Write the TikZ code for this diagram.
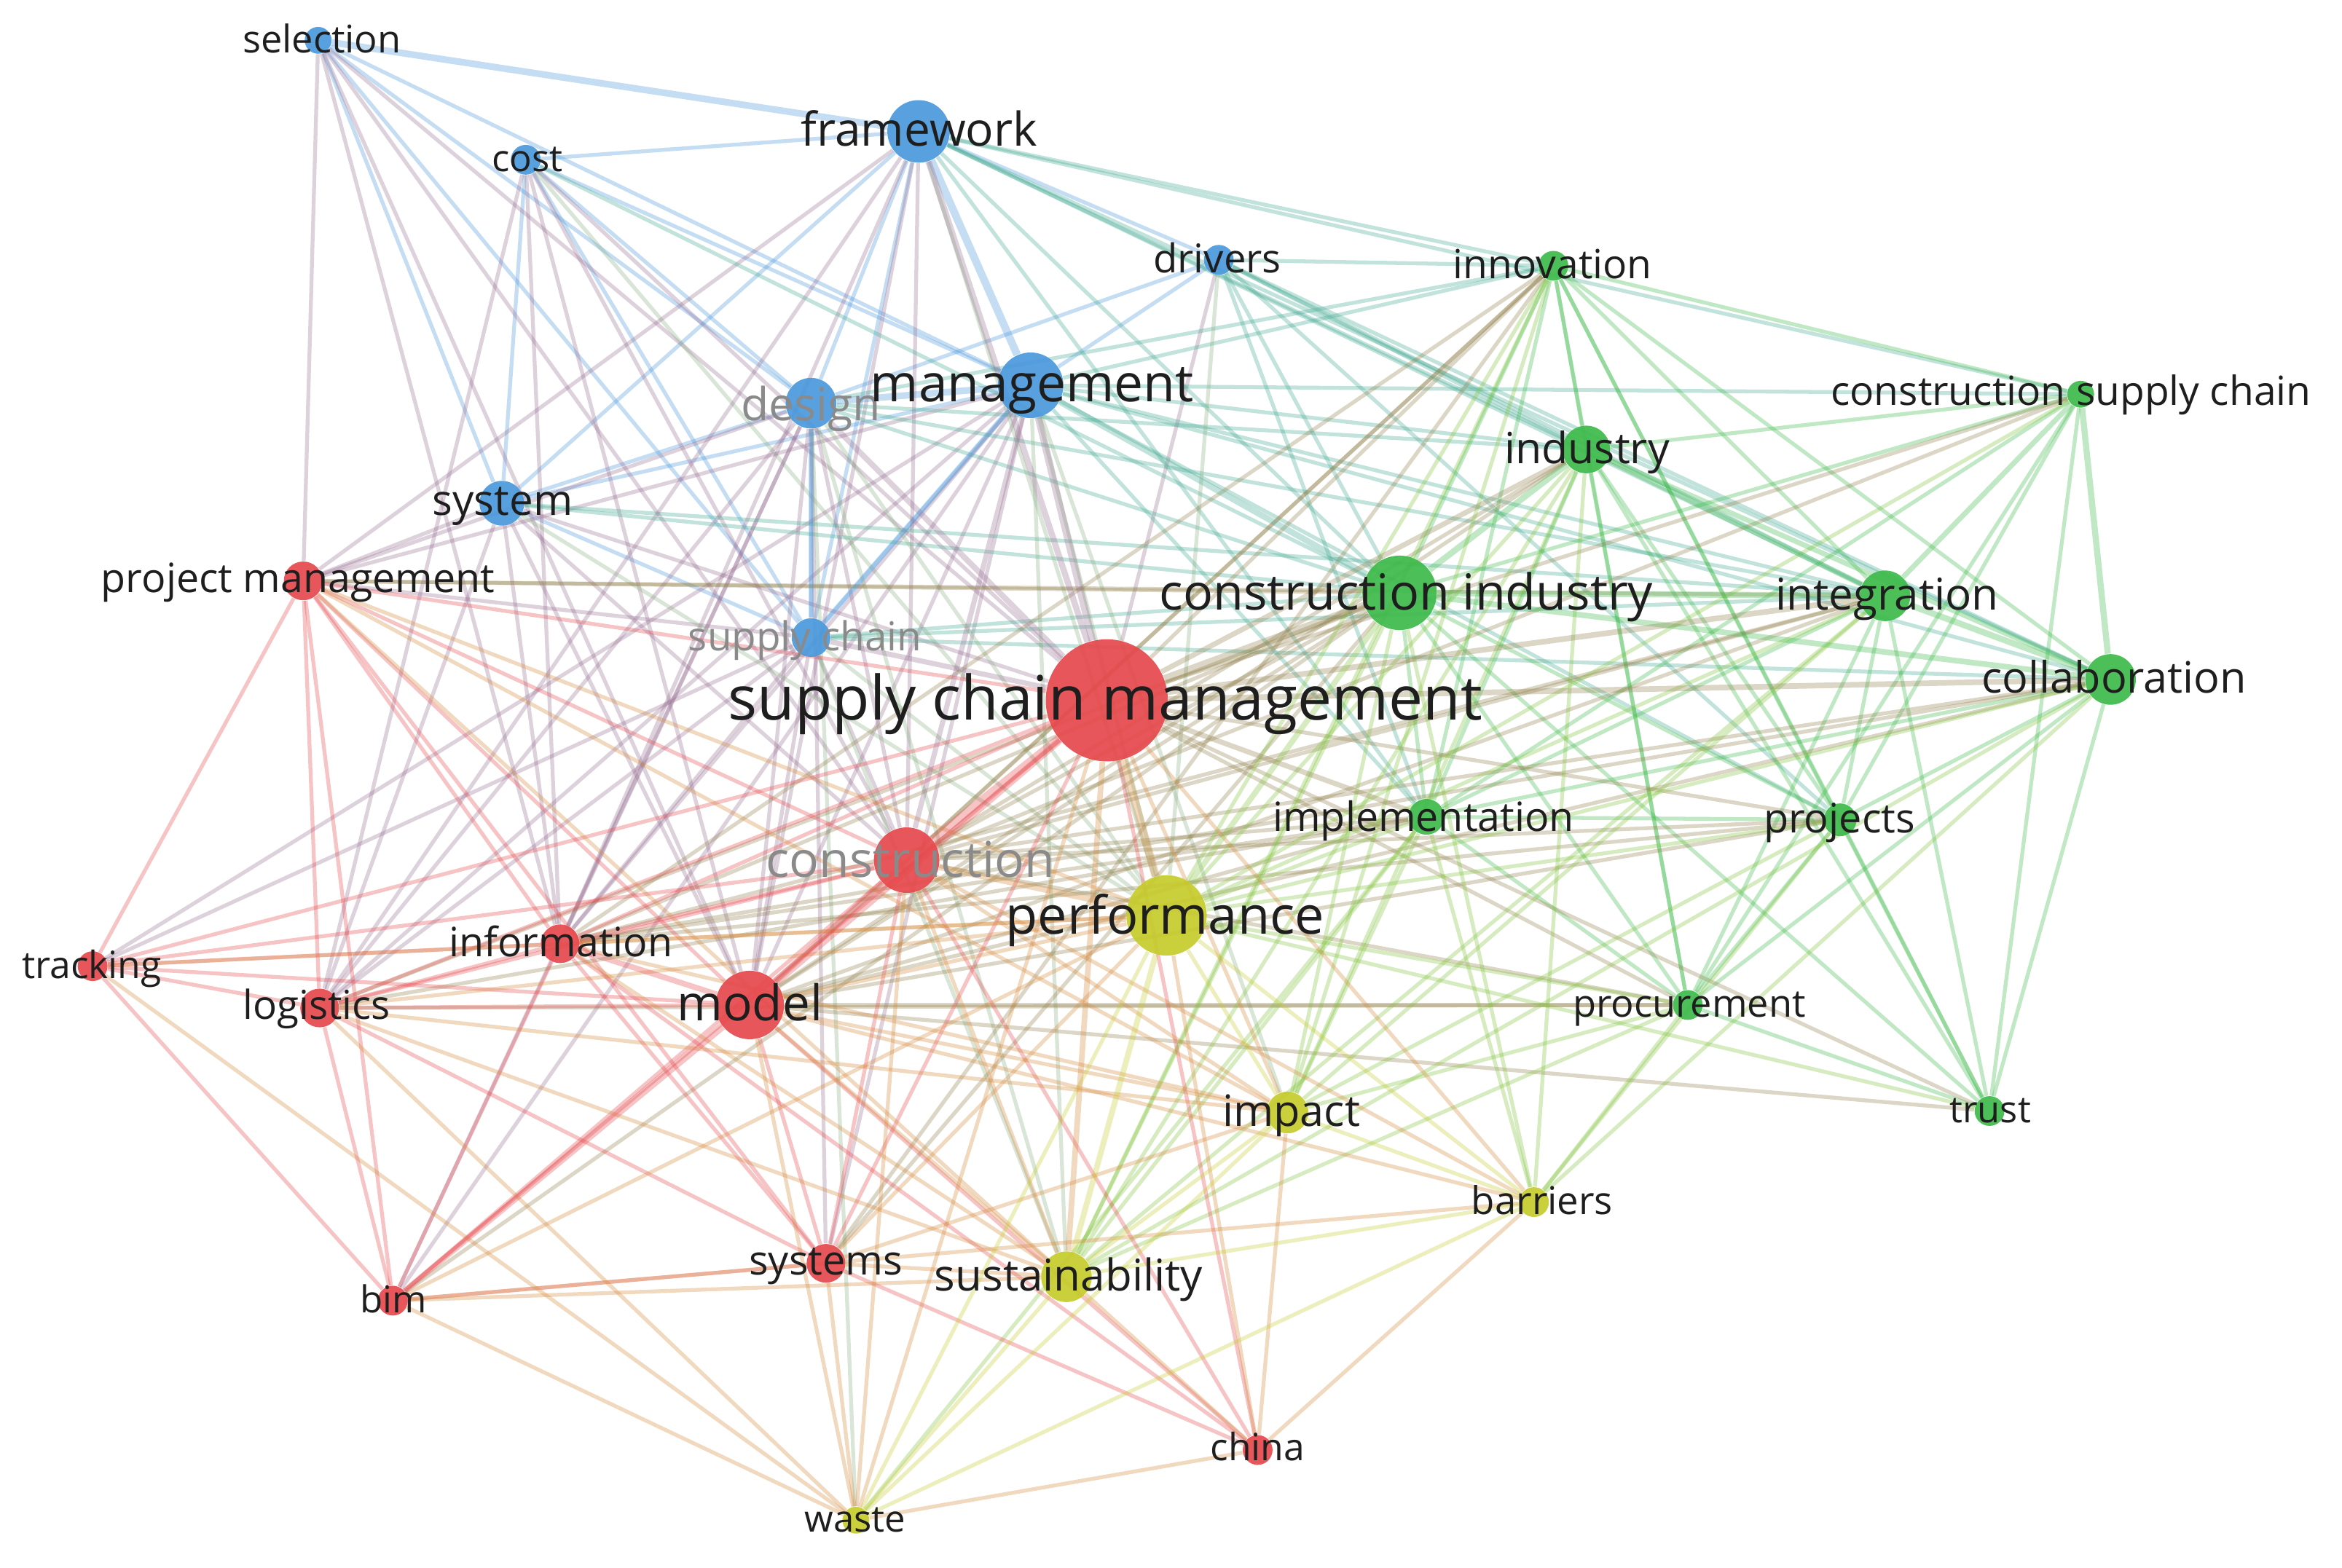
\documentclass[tikz,border=0pt]{standalone}
\usepackage{fontspec}
\setmainfont{Open Sans}
\pgfdeclarelayer{bg}
\pgfdeclarelayer{edges}
\pgfdeclarelayer{labels}
\pgfsetlayers{bg,edges,main,labels}
\definecolor{R}{HTML}{E6484C}
\definecolor{B}{HTML}{4A98DC}
\definecolor{G}{HTML}{3DBA4A}
\definecolor{Y}{HTML}{C6CB2C}
\definecolor{txt}{HTML}{1E1E1E}
\definecolor{gtxt}{HTML}{8A8A8A}
\colorlet{cscm}{R}\colorlet{cpm}{R}\colorlet{ccon}{R}\colorlet{cinf}{R}\colorlet{cmod}{R}
\colorlet{ctrk}{R}\colorlet{clog}{R}\colorlet{csys2}{R}\colorlet{cbim}{R}\colorlet{cchn}{R}
\colorlet{csel}{B}\colorlet{ccost}{B}\colorlet{cfw}{B}\colorlet{cdrv}{B}\colorlet{cdes}{B}
\colorlet{cmgt}{B}\colorlet{csys}{B}\colorlet{csc}{B}
\colorlet{cinn}{G}\colorlet{ccsc}{G}\colorlet{cind}{G}\colorlet{cci}{G}\colorlet{cint}{G}
\colorlet{ccol}{G}\colorlet{cimp}{G}\colorlet{cprj}{G}\colorlet{cproc}{G}\colorlet{ctru}{G}
\colorlet{cperf}{Y}\colorlet{cimpa}{Y}\colorlet{cbar}{Y}\colorlet{csus}{Y}\colorlet{cwst}{Y}
\begin{document}
\begin{tikzpicture}[x=0.020504cm,y=-0.020504cm,
  kw/.style={circle,inner sep=0pt,draw=none,fill opacity=0.92},
  rad/.style={minimum size=#1*1.1636pt},
  lab/.style={text=txt,inner sep=0pt,anchor=base},
  glab/.style={lab,text=gtxt},
  fs/.style={font=\fontsize{#1}{#1}\selectfont,yshift=-#1*0.32pt},
  edge/.style={line width=1.5pt,draw opacity=0.32},
]
\begin{pgfonlayer}{bg}
\fill[white] (0,0) rectangle (1568,1050);
\end{pgfonlayer}
\useasboundingbox (0,0) rectangle (1568,1050);

% ---------- nodes (circles)
\node[kw,fill=B,rad=9]  (sel)  at (213,27) {};
\node[kw,fill=B,rad=10] (cost) at (352,107) {};
\node[kw,fill=B,rad=21] (fw)   at (615,88) {};
\node[kw,fill=B,rad=10] (drv)  at (816,174) {};
\node[kw,fill=G,rad=10] (inn)  at (1040,178) {};
\node[kw,fill=G,rad=9]  (csc)  at (1393,264) {};
\node[kw,fill=B,rad=22] (mgt)  at (690,258) {};
\node[kw,fill=B,rad=17] (des)  at (543,270) {};
\node[kw,fill=G,rad=16] (ind)  at (1062,301) {};
\node[kw,fill=B,rad=15] (sys)  at (336,337) {};
\node[kw,fill=R,rad=13] (pm)   at (203,389) {};
\node[kw,fill=G,rad=25] (ci)   at (937,397) {};
\node[kw,fill=G,rad=17] (int)  at (1262,399) {};
\node[kw,fill=B,rad=13] (sc)   at (543,427) {};
\node[kw,fill=R,rad=41] (scm)  at (741,469) {};
\node[kw,fill=G,rad=17] (col)  at (1413,455) {};
\node[kw,fill=G,rad=12] (imp)  at (955,547) {};
\node[kw,fill=G,rad=11] (prj)  at (1232,549) {};
\node[kw,fill=R,rad=22] (con)  at (607,576) {};
\node[kw,fill=Y,rad=27] (perf) at (781,613) {};
\node[kw,fill=R,rad=10] (trk)  at (62,647) {};
\node[kw,fill=R,rad=13] (inf)  at (375,632) {};
\node[kw,fill=R,rad=13] (log)  at (214,675) {};
\node[kw,fill=R,rad=23] (mod)  at (502,673) {};
\node[kw,fill=G,rad=10] (proc) at (1130,673) {};
\node[kw,fill=Y,rad=14] (impa) at (862,745) {};
\node[kw,fill=G,rad=10] (tru)  at (1332,744) {};
\node[kw,fill=Y,rad=10] (bar)  at (1027,805) {};
\node[kw,fill=R,rad=13] (sys2) at (553,846) {};
\node[kw,fill=Y,rad=17] (sus)  at (714,855) {};
\node[kw,fill=R,rad=10] (bim)  at (263,871) {};
\node[kw,fill=R,rad=10] (chn)  at (842,971) {};
\node[kw,fill=Y,rad=9]  (wst)  at (573,1018) {};

% ---------- edges
\begin{pgfonlayer}{edges}
\foreach \a/\b in {
 sel/mgt, sel/des, sel/sys, sel/sc, cost/fw, cost/mgt, cost/des, cost/sys, cost/sc,
 fw/des, fw/sys, fw/drv, fw/sc, drv/mgt, drv/des, mgt/sys, mgt/sc, des/sys, des/sc, sys/sc,
 sel/pm, sel/scm, sel/con, sel/mod, sel/inf, cost/scm, cost/log, cost/mod, cost/inf, cost/con, cost/perf,
 fw/con, fw/mod, fw/inf, fw/log, fw/pm,
 drv/scm, mgt/mod, mgt/inf, mgt/log, mgt/pm, mgt/bim, mgt/sys2, mgt/trk,
 des/con, des/mod, des/inf, des/log, des/pm, des/bim, des/sys2, sys/scm, sys/pm, sys/mod, sys/inf,
 sys/log, sys/con, sc/con, sc/mod, sc/log, sc/inf, sc/trk, sc/pm,
 fw/ci, fw/int, fw/inn, fw/ind, fw/imp, fw/csc, fw/col, drv/ci, drv/ind, drv/int, drv/col, drv/imp,
 drv/prj, drv/inn, mgt/ind, mgt/int, mgt/col, mgt/imp, mgt/inn, mgt/csc, mgt/prj,
 des/ci, des/ind, des/int, des/inn, sys/ci, sys/int, sc/ci, sc/int, sc/col, cost/ci,
 fw/perf, drv/perf, mgt/perf, des/perf, sys/perf, sc/perf, mgt/sus, des/sus, mgt/impa, sc/sus, des/wst,
 inn/ci, inn/ind, inn/int, inn/csc, inn/col, inn/imp, inn/prj, inn/proc, inn/tru,
 csc/ind, csc/ci, csc/prj, csc/imp, csc/proc, csc/tru,
 ind/imp, ind/proc, ind/prj, ind/tru, ci/imp, ci/prj, ci/proc, ci/tru,
 int/imp, int/prj, int/proc, int/tru, col/prj, col/proc, col/tru, col/imp, imp/proc, imp/prj,
 prj/proc, prj/tru, proc/tru,
 inn/scm, inn/mod, inn/con, inn/inf, inn/sys2, csc/scm, csc/con, ind/con, ind/mod,
 ci/con, ci/mod, ci/inf, ci/pm, ci/log, ci/sys2, ci/bim, int/con, int/mod, int/pm, int/inf,
 col/con, col/mod, imp/con, imp/mod, imp/inf, prj/scm, prj/con, prj/mod,
 proc/scm, proc/con, proc/mod, proc/log, tru/scm, tru/mod, imp/log, col/inf, prj/inf,
 inn/perf, inn/sus, inn/impa, csc/perf, ind/perf, ind/sus, ind/bar, ind/impa, ci/sus, ci/impa,
 ci/bar, int/perf, col/perf, col/bar, imp/perf, imp/bar, imp/impa, imp/sus, prj/perf, prj/impa,
 proc/perf, proc/impa, proc/bar, tru/perf, int/impa, int/sus, col/sus, prj/bar, proc/sus, imp/wst,
 scm/pm, scm/inf, scm/trk, scm/log, scm/sys2, scm/bim, scm/chn,
 pm/con, pm/inf, pm/mod, pm/log, pm/trk, pm/bim, pm/sys2, con/inf, con/log, con/trk, con/sys2,
 con/bim, con/chn, inf/log, inf/trk, inf/bim, inf/sys2, inf/chn, mod/log, mod/trk,
 mod/sys2, mod/chn, trk/log, trk/bim, log/bim, log/sys2, sys2/bim, sys2/chn,
 scm/impa, scm/bar, scm/wst, con/impa, con/sus, con/wst, con/bar, mod/perf, mod/impa,
 mod/sus, mod/wst, mod/bar, inf/perf, inf/sus, inf/impa, log/perf, log/impa, log/sus, log/wst,
 sys2/perf, sys2/sus, sys2/wst, sys2/impa, bim/perf, bim/sus, bim/wst, bim/bar, chn/perf,
 chn/sus, chn/wst, chn/bar, chn/impa, trk/perf, trk/wst, pm/perf, pm/impa, pm/sus,
 perf/impa, perf/bar, perf/wst, impa/sus, impa/bar, impa/wst, bar/sus, bar/wst, sus/wst}
 \draw[edge,draw=c\a!50!c\b] (\a) -- (\b);
\foreach \a/\b/\w in {
 scm/con/3.2, scm/perf/3.2, scm/ci/3.2, scm/mod/2.6, scm/mgt/2.8, fw/mgt/3, mgt/des/2.6,
 sel/fw/2.6, scm/des/2.2, scm/fw/2.4, mgt/ci/2.4, con/mod/2.4, mod/inf/2.2, con/perf/2.4,
 ci/ind/2.4, ci/int/2.4, ci/col/2.2, scm/col/2.2, scm/int/2.2, scm/sus/2.2, perf/sus/2.2,
 int/col/2.4, ind/int/2.2, csc/col/2.4, mod/bim/2.2, ci/perf/2.2, scm/ind/2, scm/imp/2,
 csc/int/2, con/mgt/2, ind/col/2, scm/sc/2, mgt/sc/2, des/sc/2}
 \draw[edge,line width=\w pt,draw=c\a!50!c\b] (\a) -- (\b);
\end{pgfonlayer}

% ---------- labels
\begin{pgfonlayer}{labels}
\node[lab,fs=14.9] (sel-l)  at (215.5,27)  {selection};
\node[lab,fs=14.5] (cost-l) at (353,107)   {cost};
\node[lab,fs=18.2] (fw-l)   at (615.5,88)  {framework};
\node[lab,fs=15.5] (drv-l)  at (815,174)   {drivers};
\node[lab,fs=15.7] (inn-l)  at (1039.5,178){innovation};
\node[lab,fs=15.7] (csc-l)  at (1386.5,263){construction supply chain};
\node[glab,fs=17.8](des-l)  at (543,272)   {design};
\node[lab,fs=20.3] (mgt-l)  at (691,258)   {management};
\node[lab,fs=16.8] (ind-l)  at (1062.5,301){industry};
\node[lab,fs=16.6] (sys-l)  at (336.5,336) {system};
\node[lab,fs=15.8] (pm-l)   at (199.5,388) {project management};
\node[lab,fs=19.4] (ci-l)   at (941.5,398) {construction industry};
\node[lab,fs=17.1] (int-l)  at (1263.5,399){integration};
\node[glab,fs=15.6](sc-l)   at (539,427)   {supply chain};
\node[lab,fs=23.9] (scm-l)  at (740,469)   {supply chain management};
\node[lab,fs=16.9] (col-l)  at (1415.5,455){collaboration};
\node[lab,fs=15.8] (imp-l)  at (953,548)   {implementation};
\node[lab,fs=15.9] (prj-l)  at (1231.5,549){projects};
\node[glab,fs=19.3](con-l)  at (609.5,577) {construction};
\node[lab,fs=20.5] (perf-l) at (780,614)   {performance};
\node[lab,fs=14.7] (trk-l)  at (61.5,647)  {tracking};
\node[lab,fs=15.8] (inf-l)  at (375.5,632) {information};
\node[lab,fs=15.6] (log-l)  at (212,674)   {logistics};
\node[lab,fs=19.2] (mod-l)  at (502,673)   {model};
\node[lab,fs=14.9] (proc-l) at (1131,673)  {procurement};
\node[lab,fs=16.9] (impa-l) at (864.5,745) {impact};
\node[lab,fs=14.4] (tru-l)  at (1332.5,744){trust};
\node[lab,fs=15.0] (bar-l)  at (1032.5,805){barriers};
\node[lab,fs=15.9] (sys2-l) at (553,845)   {systems};
\node[lab,fs=17.1] (sus-l)  at (715.5,855) {sustainability};
\node[lab,fs=14.5] (bim-l)  at (263.5,871) {bim};
\node[lab,fs=14.7] (chn-l)  at (842,970)   {china};
\node[lab,fs=14.5] (wst-l)  at (572.5,1018){waste};
\end{pgfonlayer}
\end{tikzpicture}
\end{document}
